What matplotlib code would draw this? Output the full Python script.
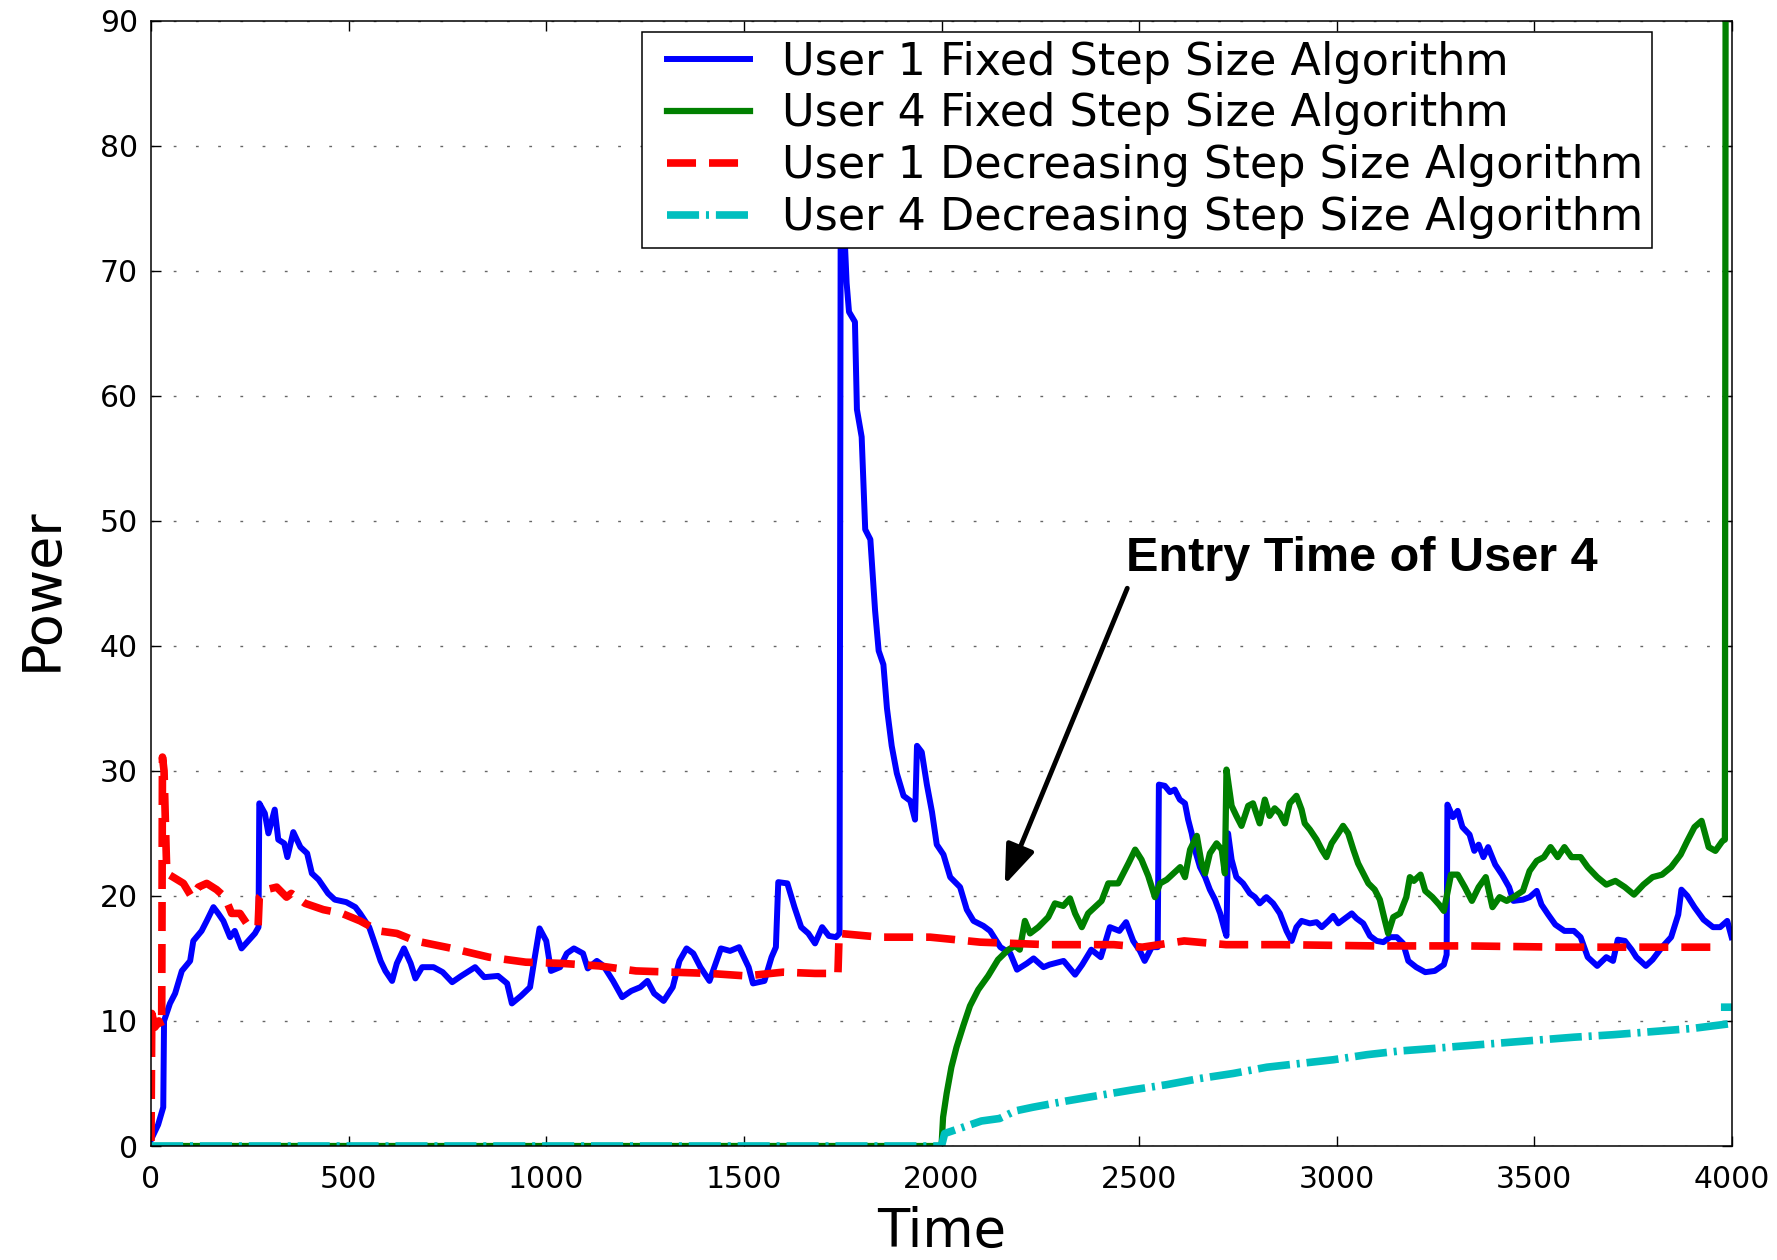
#!/usr/bin/env python3
"""Power of user 1 and user 4 under fixed and decreasing step size algorithms."""

import matplotlib

matplotlib.use("Agg")
import matplotlib.pyplot as plt
from matplotlib.legend_handler import HandlerLine2D
from matplotlib.lines import Line2D
import numpy as np


# ---- data -----------------------------------------------------------------
U1_FIXED_T = [
    0, 18, 31, 33, 48, 61, 78, 99, 107, 128, 141, 158, 170, 183, 200, 212, 229, 246,
    263, 272, 274, 288, 297, 313, 322, 337, 345, 360, 378, 395, 407, 424, 448, 465,
    494, 517, 529, 552, 564, 581, 593, 610, 622, 640, 657, 669, 686, 715, 738, 762,
    785, 820, 843, 878, 901, 913, 936, 959, 971, 983, 1000, 1012, 1035, 1052, 1070,
    1093, 1105, 1128, 1145, 1169, 1192, 1215, 1238, 1256, 1273, 1297, 1320, 1337,
    1355, 1372, 1390, 1413, 1442, 1465, 1488, 1512, 1523, 1552, 1570, 1581, 1587,
    1610, 1628, 1645, 1663, 1680, 1698, 1715, 1733, 1742, 1745, 1753, 1760, 1766,
    1781, 1786, 1798, 1807, 1820, 1832, 1841, 1853, 1862, 1874, 1887, 1904, 1921,
    1933, 1938, 1950, 1963, 1976, 1988, 2005, 2022, 2047, 2064, 2081, 2106, 2123,
    2149, 2174, 2191, 2216, 2233, 2258, 2273, 2309, 2338, 2356, 2379, 2403, 2426,
    2450, 2467, 2485, 2502, 2514, 2532, 2547, 2550, 2565, 2578, 2590, 2603, 2616,
    2624, 2633, 2641, 2654, 2667, 2679, 2692, 2705, 2717, 2721, 2725, 2734, 2746,
    2763, 2780, 2793, 2805, 2822, 2839, 2856, 2873, 2886, 2898, 2911, 2932, 2949,
    2962, 2979, 2991, 3004, 3021, 3038, 3050, 3067, 3084, 3101, 3118, 3135, 3152,
    3168, 3181, 3201, 3224, 3248, 3271, 3278, 3280, 3294, 3306, 3318, 3336, 3348,
    3359, 3371, 3383, 3401, 3418, 3436, 3447, 3471, 3488, 3506, 3518, 3535, 3553,
    3576, 3600, 3617, 3635, 3659, 3682, 3699, 3711, 3729, 3746, 3758, 3782, 3799,
    3823, 3846, 3864, 3872, 3887, 3905, 3928, 3952, 3970, 3988, 3999,
]
U1_FIXED_P = [
    0.5, 1.7, 3.1, 10.0, 11.4, 12.2, 14.0, 14.8, 16.4, 17.2, 18.0, 19.1, 18.6, 18.0,
    16.7, 17.2, 15.8, 16.4, 17.0, 17.5, 27.4, 26.6, 25.0, 26.9, 24.5, 24.2, 23.1,
    25.1, 23.9, 23.4, 21.8, 21.3, 20.2, 19.7, 19.5, 19.1, 18.6, 17.5, 16.4, 14.8,
    14.0, 13.2, 14.6, 15.8, 14.6, 13.4, 14.3, 14.3, 13.9, 13.1, 13.6, 14.3, 13.5,
    13.6, 13.0, 11.4, 12.0, 12.7, 15.1, 17.4, 16.4, 14.0, 14.3, 15.4, 15.8, 15.4,
    14.2, 14.8, 14.4, 13.2, 11.9, 12.4, 12.7, 13.2, 12.2, 11.6, 12.7, 14.8, 15.8,
    15.4, 14.3, 13.2, 15.8, 15.6, 15.9, 14.3, 13.0, 13.2, 15.1, 15.9, 21.1, 21.0,
    19.1, 17.5, 17.0, 16.2, 17.5, 16.8, 16.7, 17.0, 76.0, 74.0, 69.0, 66.7, 65.9,
    58.9, 56.7, 49.3, 48.5, 42.8, 39.6, 38.5, 35.0, 32.0, 29.8, 28.0, 27.6, 26.1,
    32.0, 31.5, 28.9, 26.7, 24.1, 23.3, 21.5, 20.7, 18.9, 18.0, 17.6, 17.2, 15.9,
    15.4, 14.1, 14.6, 15.0, 14.3, 14.5, 14.8, 13.7, 14.5, 15.7, 15.1, 17.5, 17.2,
    17.9, 16.4, 15.6, 14.8, 15.9, 15.9, 28.9, 28.8, 28.3, 28.5, 27.7, 27.4, 26.1,
    25.0, 23.7, 22.3, 21.5, 20.5, 19.7, 18.6, 17.2, 16.8, 25.0, 22.9, 21.5, 21.0,
    20.2, 19.9, 19.4, 19.9, 19.4, 18.6, 17.2, 16.4, 17.5, 18.0, 17.8, 17.9, 17.5,
    18.0, 18.4, 17.8, 18.2, 18.6, 18.2, 17.8, 16.8, 16.4, 16.3, 16.7, 16.7, 16.2,
    14.8, 14.3, 13.9, 14.0, 14.5, 15.3, 27.3, 26.3, 26.8, 25.5, 24.9, 23.6, 24.1,
    23.1, 23.9, 22.5, 21.7, 20.7, 19.6, 19.7, 19.9, 20.4, 19.3, 18.5, 17.7, 17.2,
    17.2, 16.7, 15.1, 14.4, 15.1, 14.8, 16.5, 16.4, 15.7, 15.1, 14.4, 14.9, 15.9,
    16.7, 18.5, 20.5, 20.0, 19.1, 18.1, 17.5, 17.5, 18.0, 16.7,
]

U4_FIXED_T = [
    0, 2000, 2004, 2013, 2025, 2038, 2055, 2072, 2093, 2118, 2143, 2169, 2186, 2198,
    2211, 2224, 2245, 2270, 2287, 2308, 2325, 2338, 2355, 2371, 2388, 2405, 2422,
    2447, 2473, 2490, 2506, 2523, 2540, 2553, 2570, 2587, 2604, 2616, 2629, 2646,
    2658, 2667, 2679, 2696, 2709, 2717, 2721, 2734, 2746, 2759, 2776, 2788, 2805,
    2818, 2830, 2843, 2856, 2869, 2881, 2898, 2911, 2919, 2932, 2949, 2962, 2974,
    2987, 3004, 3016, 3029, 3042, 3054, 3067, 3080, 3096, 3109, 3122, 3130, 3143,
    3160, 3176, 3185, 3195, 3212, 3224, 3242, 3259, 3271, 3289, 3306, 3324, 3342,
    3359, 3377, 3394, 3412, 3430, 3447, 3471, 3488, 3506, 3524, 3541, 3559, 3576,
    3594, 3617, 3635, 3659, 3682, 3705, 3729, 3752, 3776, 3799, 3823, 3846, 3870,
    3887, 3905, 3923, 3941, 3958, 3976, 3982, 3984,
]
U4_FIXED_P = [
    0.0, 0.0, 2.3, 4.2, 6.3, 7.9, 9.6, 11.2, 12.5, 13.6, 14.9, 15.7, 16.0, 15.7,
    18.0, 17.0, 17.5, 18.3, 19.4, 19.2, 19.8, 18.6, 17.5, 18.6, 19.1, 19.6, 21.0,
    21.0, 22.6, 23.7, 22.9, 21.6, 19.9, 21.0, 21.3, 21.8, 22.3, 21.5, 23.7, 24.8,
    22.6, 21.8, 23.4, 24.2, 23.7, 21.8, 30.1, 27.2, 26.4, 25.6, 27.2, 27.4, 25.8,
    27.7, 26.4, 27.0, 26.6, 25.8, 27.4, 28.0, 26.9, 25.8, 25.3, 24.5, 23.7, 23.1,
    24.2, 25.0, 25.6, 25.0, 23.7, 22.6, 21.8, 21.0, 20.5, 19.7, 18.0, 17.0, 18.3,
    18.6, 19.9, 21.5, 21.2, 21.7, 20.4, 19.9, 19.3, 18.8, 21.7, 21.7, 20.7, 19.6,
    20.7, 21.5, 19.1, 19.9, 19.6, 19.9, 20.4, 22.0, 22.8, 23.1, 23.9, 23.1, 23.9,
    23.1, 23.1, 22.3, 21.5, 20.9, 21.2, 20.7, 20.1, 20.9, 21.5, 21.7, 22.3, 23.3,
    24.4, 25.5, 26.0, 23.9, 23.6, 24.4, 24.5, 100.0,
]

U1_DECR_T = [
    0, 2, 10, 20, 27, 29, 33, 38, 40, 56, 82, 103, 120, 141, 166, 187, 204, 225,
    242, 271, 274, 292, 318, 343, 355, 390, 436, 483, 529, 576, 622, 669, 762, 855,
    948, 1041, 1134, 1227, 1320, 1413, 1506, 1599, 1680, 1738, 1741, 1845, 1971,
    2098, 2267, 2436, 2508, 2614, 2720, 2860, 3095, 3330, 3565, 3799, 3960,
]
U1_DECR_P = [
    0.4, 10.6, 9.5, 10.0, 9.5, 31.1, 30.0, 24.0, 21.8, 21.5, 21.0, 19.9, 20.7, 21.0,
    20.5, 19.9, 18.6, 18.6, 17.8, 17.6, 19.9, 20.5, 20.7, 19.9, 20.2, 19.4, 18.9,
    18.6, 18.0, 17.2, 17.0, 16.4, 15.8, 15.1, 14.7, 14.6, 14.4, 14.0, 13.9, 13.8,
    13.6, 13.9, 13.8, 13.8, 17.0, 16.7, 16.7, 16.3, 16.1, 16.1, 15.9, 16.4, 16.1,
    16.1, 16.0, 16.0, 15.9, 15.9, 15.9,
]

# NaN splits off the short stray piece near the right edge
U4_DECR_T = [
    0, 2000, 2008, 2101, 2147, 2186, 2231, 2316, 2400, 2485, 2569, 2654, 2738, 2823,
    2907, 2992, 3076, 3160, 3245, 3300, 3400, 3500, 3600, 3700, 3800, 3900, 4000,
    np.nan, 3972, 4000,
]
U4_DECR_P = [
    0.0, 0.0, 1.0, 2.0, 2.2, 2.8, 3.1, 3.6, 4.05, 4.5, 4.9, 5.4, 5.8, 6.3, 6.6, 6.9,
    7.3, 7.6, 7.8, 7.95, 8.2, 8.45, 8.7, 8.9, 9.15, 9.4, 9.8,
    np.nan, 11.1, 11.1,
]

LABELS = [
    "User 1 Fixed Step Size Algorithm",
    "User 4 Fixed Step Size Algorithm",
    "User 1 Decreasing Step Size Algorithm",
    "User 4 Decreasing Step Size Algorithm",
]
X_TICKS = [0, 500, 1000, 1500, 2000, 2500, 3000, 3500, 4000]
Y_TICKS = [0, 10, 20, 30, 40, 50, 60, 70, 80, 90]

ANNOT_TEXT = "Entry Time of User 4"
ANNOT_TEXT_AT = (2467, 46.0)
ARROW_TAIL = (2470, 44.6)
ARROW_TIP = (2160, 20.9)


def plot_power() -> None:
    fig = plt.figure(figsize=(17.77, 12.60), dpi=100)
    ax = fig.add_axes([151 / 1777, 1 - 1146 / 1260, 1581 / 1777, 1125.5 / 1260])

    ax.plot(U1_FIXED_T, U1_FIXED_P, color="#0000ff", lw=4.3, label=LABELS[0])
    ax.plot(U4_FIXED_T, U4_FIXED_P, color="#008000", lw=4.5, label=LABELS[1])
    (red,) = ax.plot(U1_DECR_T, U1_DECR_P, color="#ff0000", lw=5.5, label=LABELS[2])
    red.set_dashes((3.8, 1.7))
    (cyan,) = ax.plot(U4_DECR_T, U4_DECR_P, color="#00bfbf", lw=5.5, label=LABELS[3])
    cyan.set_dashes((4.2, 0.9, 0.4, 0.9))

    ax.set_xlim(0, 4000)
    ax.set_ylim(0, 90)
    ax.set_xticks(X_TICKS)
    ax.set_yticks(Y_TICKS)
    ax.tick_params(direction="in", length=7.5, width=1.0, top=True, right=True,
                   labelsize=21.5, colors="black")
    ax.tick_params(axis="x", pad=13.5)
    ax.tick_params(axis="y", pad=9.5)
    for spine in ax.spines.values():
        spine.set_linewidth(1.1)
        spine.set_color("black")

    ax.yaxis.grid(True, linestyle=(0, (2, 14)), color="0.4", lw=1.0)
    ax.set_axisbelow(True)

    ax.set_xlabel("Time", fontsize=38)
    ax.set_ylabel("Power", fontsize=39)
    ax.xaxis.set_label_coords(0.5, -0.0535)
    ax.yaxis.set_label_coords(-0.053, 0.495)

    ax.annotate("", xy=ARROW_TIP, xytext=ARROW_TAIL,
                arrowprops=dict(arrowstyle="-|>,head_length=1.2,head_width=0.45",
                                color="black", lw=3.5, mutation_scale=20,
                                shrinkA=0, shrinkB=0))
    ax.text(*ANNOT_TEXT_AT, ANNOT_TEXT, fontsize=35, fontweight="bold",
            family="Liberation Sans", ha="left", va="baseline")

    # xpad pushes the handle lines in from the frame without padding the rows
    leg = ax.legend(loc="upper right", bbox_to_anchor=(1652 / 1777, 1 - 31.7 / 1260),
                    bbox_transform=fig.transFigure, borderaxespad=0, fontsize=32,
                    handlelength=2.23, handletextpad=0.72, borderpad=0.2,
                    labelspacing=0.2, fancybox=False, framealpha=1.0,
                    handler_map={Line2D: HandlerLine2D(xpad=0.36)})
    leg.get_frame().set_edgecolor("black")
    leg.get_frame().set_linewidth(1.1)

    fig.savefig("out.png", dpi=100)


def main() -> None:
    plot_power()


if __name__ == "__main__":
    main()
